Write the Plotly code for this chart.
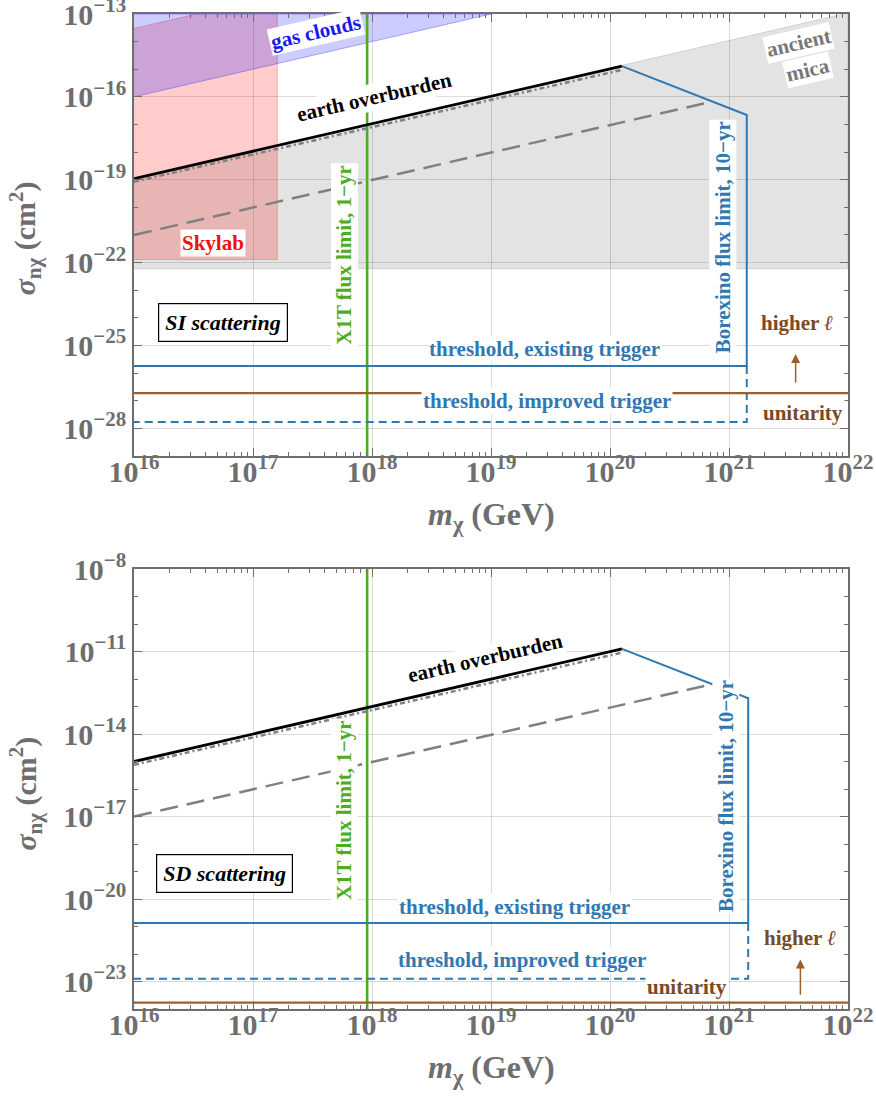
import plotly.graph_objects as go
from plotly.subplots import make_subplots

# ---------------- data ----------------
mass_range = [1e16, 1e22]
si_range = [1e-29, 1e-13]
sd_range = [1e-24, 1e-8]

mass_ticks = [1e16, 1e17, 1e18, 1e19, 1e20, 1e21, 1e22]
mass_ticktext = ["10<sup>16</sup>", "10<sup>17</sup>", "10<sup>18</sup>", "10<sup>19</sup>",
                 "10<sup>20</sup>", "10<sup>21</sup>", "10<sup>22</sup>"]
si_ticks = [1e-28, 1e-25, 1e-22, 1e-19, 1e-16, 1e-13]
si_ticktext = ["10<sup>−28</sup>", "10<sup>−25</sup>", "10<sup>−22</sup>", "10<sup>−19</sup>",
               "10<sup>−16</sup>", "10<sup>−13</sup>"]
sd_ticks = [1e-23, 1e-20, 1e-17, 1e-14, 1e-11, 1e-8]
sd_ticktext = ["10<sup>−23</sup>", "10<sup>−20</sup>", "10<sup>−17</sup>", "10<sup>−14</sup>",
               "10<sup>−11</sup>", "10<sup>−8</sup>"]

x1t_mass = [9.1e17, 9.1e17]

# SI scattering
earth_mass = [1e16, 1.26e20]
earth_si = [1.1e-19, 1.3e-15]
earth_alt_si = [8.5e-20, 9.5e-16]
dash_mass = [1e16, 6.6e20]
dash_si = [1.0e-21, 6.2e-17]
borex_mass_si = [1.26e20, 1.41e21, 1.41e21, 1e16]
borex_si = [1.3e-15, 2.2e-17, 1.8e-26, 1.8e-26]
improved_mass_si = [1.41e21, 1.41e21, 1e16]
improved_si = [1.8e-26, 1.7e-28, 1.7e-28]
unitarity_mass = [1e16, 1e22]
unitarity_si = [1.9e-27, 1.9e-27]
mica_mass = [1e16, 1e22, 1e22, 1e16]
mica_si = [6e-23, 6e-23, 1.1e-13, 1.1e-19]
skylab_mass = [1e16, 1.6e17, 1.6e17, 1e16]
skylab_si = [1.3e-22, 1.3e-22, 4.8e-13, 3e-14]
gas_mass = [1e16, 1e19, 1e16]
gas_si = [1e-16, 1e-13, 1e-13]

# SD scattering
earth_sd = [1.0e-15, 1.25e-11]
earth_alt_sd = [7.6e-16, 9.1e-12]
dash_sd = [1.0e-17, 5.9e-13]
borex_mass_sd = [1.26e20, 1.45e21, 1.45e21, 1e16]
borex_sd = [1.25e-11, 2e-13, 1.35e-21, 1.35e-21]
improved_mass_sd = [1.45e21, 1.45e21, 1e16]
improved_sd = [1.35e-21, 1.26e-23, 1.26e-23]
unitarity_sd = [1.7e-24, 1.7e-24]

# ---------------- style ----------------
BLUE = "#2f78b2"
GREEN = "#4cad1f"
BROWN = "#9a602c"
BROWN_TXT = "#7a4a22"
GRAY = "#808080"
AXIS_GRAY = "#6e6e6e"
SERIF = "Liberation Serif"

fig = make_subplots(rows=2, cols=1)


def add_panel(row, ylim, earth_y, alt_y, dash_y, bmass, by, imass, iy, unit_y):
    kw = dict(row=row, col=1)
    fig.add_trace(go.Scatter(x=x1t_mass, y=ylim, mode="lines",
                             line=dict(color=GREEN, width=2.6), hoverinfo="skip"), **kw)
    fig.add_trace(go.Scatter(x=earth_mass, y=alt_y, mode="lines",
                             line=dict(color=GRAY, width=2.5, dash="5px,3px,2px,3px"), hoverinfo="skip"), **kw)
    fig.add_trace(go.Scatter(x=dash_mass, y=dash_y, mode="lines",
                             line=dict(color=GRAY, width=2.5, dash="18px,9px"), hoverinfo="skip"), **kw)
    fig.add_trace(go.Scatter(x=earth_mass, y=earth_y, mode="lines",
                             line=dict(color="black", width=2.8), hoverinfo="skip"), **kw)
    fig.add_trace(go.Scatter(x=bmass, y=by, mode="lines",
                             line=dict(color=BLUE, width=2), hoverinfo="skip"), **kw)
    fig.add_trace(go.Scatter(x=imass, y=iy, mode="lines",
                             line=dict(color=BLUE, width=2, dash="8px,5px"), hoverinfo="skip"), **kw)
    fig.add_trace(go.Scatter(x=unitarity_mass, y=unit_y, mode="lines",
                             line=dict(color=BROWN, width=2.2), hoverinfo="skip"), **kw)


# shaded regions (top panel)
fig.add_trace(go.Scatter(x=mica_mass, y=mica_si, fill="toself", mode="lines",
                         fillcolor="rgba(0,0,0,0.11)", line=dict(color="rgba(0,0,0,0.12)", width=1),
                         hoverinfo="skip"), row=1, col=1)
fig.add_trace(go.Scatter(x=skylab_mass, y=skylab_si, fill="toself", mode="lines",
                         fillcolor="rgba(255,0,0,0.2)", line=dict(color="rgba(255,0,0,0.25)", width=1),
                         hoverinfo="skip"), row=1, col=1)
fig.add_trace(go.Scatter(x=gas_mass, y=gas_si, fill="toself", mode="lines",
                         fillcolor="rgba(0,0,255,0.2)", line=dict(color="rgba(0,0,255,0.3)", width=1),
                         hoverinfo="skip"), row=1, col=1)

add_panel(1, si_range, earth_si, earth_alt_si, dash_si, borex_mass_si, borex_si,
          improved_mass_si, improved_si, unitarity_si)
add_panel(2, sd_range, earth_sd, earth_alt_sd, dash_sd, borex_mass_sd, borex_sd,
          improved_mass_sd, improved_sd, unitarity_sd)

tickfont = dict(family=SERIF, size=30, color=AXIS_GRAY, weight="bold")
common_axis = dict(type="log", showline=True, linecolor=AXIS_GRAY, linewidth=1.5, mirror="ticks",
                   ticks="inside", ticklen=8, tickcolor=AXIS_GRAY, tickwidth=1.2,
                   showgrid=True, gridcolor="rgba(0,0,0,0.14)", gridwidth=1,
                   zeroline=False, tickfont=tickfont, automargin=False,
                   ticklabeloverflow="allow")

xaxis_cfg = dict(common_axis, range=[16, 22], tickvals=mass_ticks, ticktext=mass_ticktext,
                 ticklabelstandoff=-12,
                 minor=dict(ticks="inside", ticklen=4, dtick="D1", tickcolor=AXIS_GRAY, showgrid=False))
fig.update_xaxes(**xaxis_cfg)
fig.update_yaxes(**common_axis)
fig.update_yaxes(range=[-29, -13], tickvals=si_ticks, ticktext=si_ticktext,
                 minor=dict(ticks="inside", ticklen=4, dtick=1, tickcolor=AXIS_GRAY, showgrid=False),
                 row=1, col=1)
fig.update_yaxes(range=[-24, -8], tickvals=sd_ticks, ticktext=sd_ticktext,
                 minor=dict(ticks="inside", ticklen=4, dtick=1, tickcolor=AXIS_GRAY, showgrid=False),
                 row=2, col=1)

fig.update_layout(
    width=876, height=1097,
    margin=dict(l=134, r=28, t=14, b=88, autoexpand=False),
    paper_bgcolor="white", plot_bgcolor="white",
    showlegend=False,
    xaxis=dict(domain=[0, 1], anchor="y"),
    yaxis=dict(domain=[0.5558, 1.0], anchor="x"),
    xaxis2=dict(domain=[0, 1], anchor="y2"),
    yaxis2=dict(domain=[0.0, 0.4422], anchor="x2"),
)

LBL = 21


def label(text, x, y, ref, color, angle=0, size=LBL, bg="white", italic=False, border=None):
    t = f"<b>{text}</b>"
    if italic:
        t = f"<i>{t}</i>"
    d = dict(text=t, x=x, y=y, xref="x" + ref, yref="y" + ref, showarrow=False,
             textangle=angle, font=dict(family=SERIF, size=size, color=color),
             bgcolor=bg, borderpad=1, xanchor="center", yanchor="middle")
    if border:
        d.update(bordercolor=border, borderwidth=1.2, borderpad=6)
    fig.add_annotation(**d)


# top panel labels
label("gas clouds", 17.53, -13.65, "", "#1a1aee", angle=-13)
label("Skylab", 16.66, -21.3, "", "#ee1111")
label("earth overburden", 18.02, -16.0, "", "black", angle=-13)
label("ancient", 21.58, -14.05, "", "#777777", angle=-13)
label("mica", 21.66, -15.03, "", "#777777", angle=-13)
label("X1T flux limit, 1−yr", 17.77, -21.73, "", GREEN, angle=-90)
label("Borexino flux limit, 10−yr", 20.95, -21.08, "", BLUE, angle=-90)
label("threshold, existing trigger", 19.45, -25.14, "", BLUE)
label("threshold, improved trigger", 19.47, -27.02, "", BLUE)
label("higher <i>ℓ</i>", 21.57, -24.2, "", BROWN_TXT)
label("unitarity", 21.62, -27.46, "", BROWN_TXT)
label("SI scattering", 16.75, -24.16, "", "black", italic=True, border="black", size=22)
fig.add_annotation(x=21.56, y=-25.31, ax=21.56, ay=-26.39, xref="x", yref="y", axref="x", ayref="y",
                   showarrow=True, arrowhead=2, arrowsize=1.2, arrowwidth=1.5, arrowcolor=BROWN, text="")

# bottom panel labels
label("earth overburden", 18.95, -11.23, "2", "black", angle=-13)
label("X1T flux limit, 1−yr", 17.77, -16.78, "2", GREEN, angle=-90)
label("Borexino flux limit, 10−yr", 20.97, -16.24, "2", BLUE, angle=-90)
label("threshold, existing trigger", 19.20, -20.3, "2", BLUE)
label("threshold, improved trigger", 19.26, -22.22, "2", BLUE)
label("unitarity", 20.65, -23.2, "2", BROWN_TXT)
label("higher <i>ℓ</i>", 21.6, -21.43, "2", BROWN_TXT)
label("SD scattering", 16.76, -19.07, "2", "black", italic=True, border="black", size=22)
fig.add_annotation(x=21.6, y=-22.2, ax=21.6, ay=-23.54, xref="x2", yref="y2", axref="x2", ayref="y2",
                   showarrow=True, arrowhead=2, arrowsize=1.2, arrowwidth=1.5, arrowcolor=BROWN, text="")

# axis titles
title_font = dict(family=SERIF, size=32, color=AXIS_GRAY)
xtitle = "<b><i>m</i><sub>χ</sub> (GeV)</b>"
ytitle = "<b><i>σ</i><sub>nχ</sub> (cm<sup>2</sup>)</b>"
for yp in (0.4945, -0.0613):
    fig.add_annotation(text=xtitle, x=0.5, y=yp, xref="paper", yref="paper", showarrow=False,
                       font=title_font, xanchor="center", yanchor="middle")
for yp in (0.775, 0.217):
    fig.add_annotation(text=ytitle, x=-0.152, y=yp, xref="paper", yref="paper", showarrow=False,
                       font=dict(title_font, size=30), textangle=-90, xanchor="center", yanchor="middle")

fig.write_html("out.html", config={"displayModeBar": False},
               post_script="document.body.style.margin='0';")
